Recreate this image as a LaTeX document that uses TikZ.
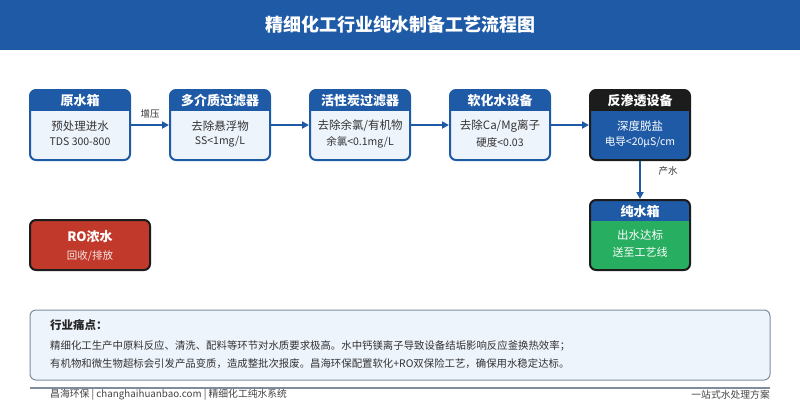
\documentclass[tikz,border=0pt]{standalone}
\usepackage{fontspec}
\setmainfont{Noto Sans CJK SC}
\usetikzlibrary{arrows.meta}
\definecolor{tblue}{HTML}{1F5AA6}
\definecolor{lbody}{HTML}{EEF4FC}
\definecolor{dtext}{HTML}{333333}
\definecolor{ggreen}{HTML}{27AE60}
\definecolor{rred}{HTML}{C0392B}
\definecolor{hblack}{HTML}{1C1C1C}
\definecolor{pgray}{HTML}{7F8C9D}
\definecolor{ftext}{HTML}{444444}
\newcommand\myframe[8]{%
  \fill[#7, rounded corners=6pt] (#2,#3) rectangle (#4,#5);
  \begin{scope}
    \clip[rounded corners=6pt] (#2,#3) rectangle (#4,#5);
    \fill[#6] (#2,#3) rectangle (#4,{#3+21});
  \end{scope}
  \draw[#8, line width=2pt, rounded corners=6pt] (#2,#3) rectangle (#4,#5);
  \node[inner sep=0pt, outer sep=1pt, minimum width={(#4-#2)*1pt}, minimum height={(#5-#3)*1pt}] (#1) at ({(#2+#4)/2},{(#3+#5)/2}) {};
}
\tikzset{
  hdrtext/.style={text=white, font=\bfseries\fontsize{13}{15}\selectfont, inner sep=0pt},
  bodyone/.style={text=dtext, font=\fontsize{11.5}{13}\selectfont, inner sep=0pt},
  bodytwo/.style={text=dtext, font=\fontsize{10.5}{12}\selectfont, inner sep=0pt},
  flow/.style={tblue, line width=2pt, -{Triangle[length=7pt,width=7pt]}},
  lbl/.style={text=dtext, font=\fontsize{9.5}{11}\selectfont, inner sep=0pt},
}
\begin{document}
\begin{tikzpicture}[x=1pt,y=-1pt]
\useasboundingbox (0,0) rectangle (800,400);
\fill[white] (0,0) rectangle (800,400);
% title bar
\fill[tblue] (0,0) rectangle (800,50);
\node[text=white, font=\bfseries\fontsize{18}{20}\selectfont, inner sep=0pt] (title) at (400,25) {精细化工行业纯水制备工艺流程图};

% boxes
\myframe{b1}{30}{90}{130}{160}{tblue}{lbody}{tblue}
\node[hdrtext] (b1h) at (80,101) {原水箱};
\node[bodyone] (b1a) at (80,126) {预处理进水};
\node[bodytwo] (b1b) at (80,142) {TDS 300-800};

\myframe{b2}{170}{90}{270}{160}{tblue}{lbody}{tblue}
\node[hdrtext] (b2h) at (220,101) {多介质过滤器};
\node[bodyone] (b2a) at (220,126) {去除悬浮物};
\node[bodytwo] (b2b) at (220,142) {SS<1mg/L};

\myframe{b3}{310}{90}{410}{160}{tblue}{lbody}{tblue}
\node[hdrtext] (b3h) at (360,101) {活性炭过滤器};
\node[bodyone] (b3a) at (360,126) {去除余氯/有机物};
\node[bodytwo] (b3b) at (360,142) {余氯<0.1mg/L};

\myframe{b4}{450}{90}{550}{160}{tblue}{lbody}{tblue}
\node[hdrtext] (b4h) at (500,101) {软化水设备};
\node[bodyone] (b4a) at (500,126) {去除Ca/Mg离子};
\node[bodytwo] (b4b) at (500,142) {硬度<0.03};

\myframe{b5}{590}{90}{690}{160}{hblack}{tblue}{hblack}
\node[hdrtext] (b5h) at (640,101) {反渗透设备};
\node[bodyone, text=white] (b5a) at (640,126) {深度脱盐};
\node[bodytwo, text=white] (b5b) at (640,142) {电导<20μS/cm};

\myframe{b6}{590}{200}{690}{270}{tblue}{ggreen}{hblack}
\node[hdrtext] (b6h) at (640,211) {纯水箱};
\node[bodyone, text=white] (b6a) at (640,235) {出水达标};
\node[bodytwo, text=white, font=\fontsize{11}{13}\selectfont] (b6b) at (640,252) {送至工艺线};

% RO concentrate
\fill[rred, rounded corners=6pt] (30,220) rectangle (150,270);
\draw[hblack, line width=2pt, rounded corners=6pt] (30,220) rectangle (150,270);
\node[inner sep=0pt, minimum width=120pt, minimum height=50pt] (ro) at (90,245) {};
\node[hdrtext] (roh) at (90,237) {RO浓水};
\node[bodytwo, text=white!88!rred] (rob) at (90,256) {回收/排放};

% connectors
\draw[flow] (b1.east) -- (b2.west) node[lbl, midway, above=6pt] (l1) {增压};
\draw[flow] (b2.east) -- (b3.west);
\draw[flow] (b3.east) -- (b4.west);
\draw[flow] (b4.east) -- (b5.west);
\draw[flow] (b5.south) -- (b6.north);
\node[lbl, font=\fontsize{9.5}{11}\selectfont] (l2) at (668,171) {产水};

% pain points
\draw[pgray, fill=lbody, line width=1pt, rounded corners=6pt] (30,310) rectangle (770,380);
\node[inner sep=0pt, anchor=west, text=black!85, font=\bfseries\fontsize{11.5}{13}\selectfont] (pt) at (50,325) {行业痛点：};
\node[inner sep=0pt, anchor=west, text=dtext, font=\fontsize{10.4}{12}\selectfont] (p1) at (50,346) {精细化工生产中原料反应、清洗、配料等环节对水质要求极高。水中钙镁离子导致设备结垢影响反应釜换热效率；};
\node[inner sep=0pt, anchor=west, text=dtext, font=\fontsize{10.4}{12}\selectfont] (p2) at (50,364) {有机物和微生物超标会引发产品变质，造成整批次报废。昌海环保配置软化+RO双保险工艺，确保用水稳定达标。};

% footer
\draw[pgray, line width=1.5pt] (30,388) -- (770,388);
\node[inner sep=0pt, anchor=west, text=ftext, font=\fontsize{9.8}{11}\selectfont] (f1) at (50,395) {昌海环保 | changhaihuanbao.com | 精细化工纯水系统};
\node[inner sep=0pt, anchor=east, text=ftext, font=\fontsize{9.8}{11}\selectfont] (f2) at (770,395) {一站式水处理方案};
\end{tikzpicture}
\end{document}
